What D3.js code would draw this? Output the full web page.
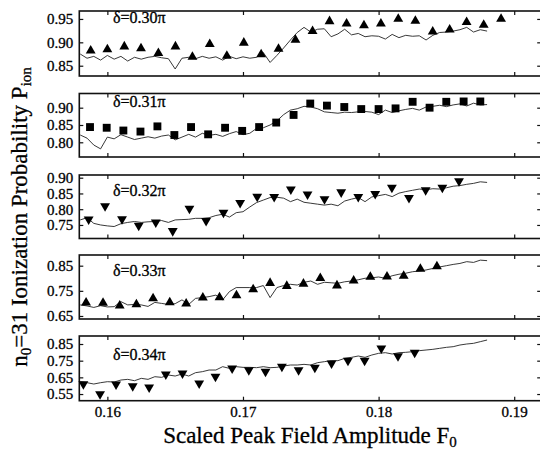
<!DOCTYPE html>
<html>
<head>
<meta charset="utf-8">
<script src="https://cdn.jsdelivr.net/npm/d3@7"></script>
<style>
  body { margin: 0; background: #fff; }
  svg { display: block; }
</style>
</head>
<body>
<div id="chart"></div>
<script>
let w = 540;
let h = 451;

// x ticks shared by all panels
let xTicks = [0.16, 0.17, 0.18, 0.19];

// F grid the simulation curves were read at
let lineF = [0.1580,0.1585,0.1590,0.1595,0.1600,0.1605,0.1610,0.1615,0.1620,0.1625,
  0.1630,0.1635,0.1640,0.1645,0.1650,0.1655,0.1660,0.1665,0.1670,0.1675,
  0.1680,0.1685,0.1690,0.1695,0.1700,0.1705,0.1710,0.1715,0.1720,0.1725,
  0.1730,0.1735,0.1740,0.1745,0.1750,0.1755,0.1760,0.1765,0.1770,0.1775,
  0.1780,0.1785,0.1790,0.1795,0.1800,0.1805,0.1810,0.1815,0.1820,0.1825,
  0.1830,0.1835,0.1840,0.1845,0.1850,0.1855,0.1860,0.1865,0.1870,0.1875,
  0.1880];

let line030 = [0.875,0.866,0.870,0.862,0.872,0.864,0.870,0.860,0.868,0.864,
  0.868,0.870,0.867,0.865,0.843,0.866,0.868,0.865,0.870,0.866,
  0.869,0.862,0.870,0.865,0.869,0.866,0.868,0.878,0.857,0.872,
  0.888,0.905,0.921,0.932,0.922,0.928,0.929,0.912,0.918,0.928,
  0.916,0.919,0.912,0.914,0.913,0.907,0.917,0.910,0.915,0.913,
  0.914,0.905,0.915,0.921,0.922,0.924,0.927,0.932,0.922,0.927,
  0.924];
let line031 = [0.821,0.812,0.792,0.781,0.815,0.810,0.822,0.815,0.808,0.812,
  0.816,0.812,0.818,0.821,0.807,0.815,0.823,0.815,0.826,0.820,
  0.823,0.817,0.825,0.831,0.822,0.826,0.840,0.842,0.850,0.862,
  0.880,0.893,0.897,0.904,0.902,0.897,0.888,0.886,0.884,0.887,
  0.886,0.888,0.889,0.887,0.880,0.893,0.886,0.891,0.895,0.898,
  0.893,0.902,0.904,0.907,0.903,0.908,0.911,0.905,0.913,0.908,
  0.909];
let line032 = [0.766,0.773,0.755,0.750,0.747,0.745,0.754,0.758,0.761,0.758,
  0.760,0.761,0.764,0.758,0.766,0.767,0.768,0.771,0.771,0.773,
  0.780,0.784,0.775,0.789,0.792,0.807,0.821,0.829,0.837,0.838,
  0.835,0.824,0.832,0.822,0.819,0.816,0.813,0.816,0.811,0.826,
  0.832,0.837,0.824,0.839,0.843,0.847,0.840,0.851,0.856,0.860,
  0.864,0.862,0.865,0.864,0.868,0.873,0.875,0.879,0.882,0.887,
  0.885];
let line033 = [0.694,0.690,0.684,0.691,0.686,0.687,0.707,0.694,0.696,0.694,
  0.688,0.704,0.700,0.696,0.699,0.714,0.696,0.720,0.723,0.727,
  0.733,0.714,0.747,0.763,0.763,0.763,0.763,0.771,0.723,0.763,
  0.771,0.776,0.773,0.784,0.789,0.776,0.784,0.782,0.780,0.786,
  0.789,0.794,0.800,0.802,0.805,0.800,0.810,0.816,0.820,0.826,
  0.829,0.833,0.839,0.845,0.850,0.855,0.859,0.866,0.863,0.872,
  0.870];
let line034 = [0.624,0.618,0.610,0.618,0.624,0.622,0.634,0.638,0.630,0.644,
  0.638,0.654,0.650,0.664,0.658,0.670,0.658,0.678,0.684,0.694,
  0.694,0.714,0.704,0.714,0.710,0.710,0.708,0.714,0.708,0.710,
  0.718,0.724,0.724,0.728,0.724,0.738,0.744,0.750,0.750,0.764,
  0.770,0.778,0.770,0.784,0.794,0.798,0.790,0.798,0.800,0.804,
  0.810,0.814,0.818,0.824,0.830,0.834,0.844,0.850,0.854,0.864,
  0.874];

// measured points
let markF030 = [0.15877,0.16000,0.16125,0.16248,0.16376,0.16502,0.16627,0.16755,0.16881,0.17006,
  0.17134,0.17262,0.17387,0.17513,0.17638,0.17764,0.17892,0.18017,0.18145,0.18271,
  0.18399,0.18524,0.18649,0.18775,0.18903];
let mark030 = [0.882,0.885,0.891,0.887,0.877,0.891,0.869,0.896,0.871,0.899,
  0.874,0.886,0.905,0.924,0.945,0.940,0.936,0.940,0.950,0.946,
  0.923,0.927,0.943,0.937,0.950];

let markF031 = [0.15872,0.15995,0.16118,0.16244,0.16369,0.16494,0.16617,0.16743,0.16868,0.16994,
  0.17119,0.17245,0.17373,0.17496,0.17619,0.17747,0.17872,0.18000,0.18125,0.18251,
  0.18376,0.18499,0.18627,0.18750];
let mark031 = [0.844,0.842,0.834,0.831,0.846,0.821,0.844,0.823,0.842,0.833,
  0.844,0.857,0.879,0.912,0.906,0.902,0.896,0.896,0.898,0.917,
  0.900,0.917,0.918,0.918];

let markF032 = [0.15862,0.15983,0.16108,0.16231,0.16357,0.16482,0.16605,0.16728,0.16856,0.16979,
  0.17105,0.17230,0.17353,0.17476,0.17601,0.17724,0.17850,0.17975,0.18098,0.18224,
  0.18347,0.18470,0.18593];
let mark032 = [0.768,0.810,0.769,0.748,0.758,0.731,0.802,0.763,0.789,0.820,
  0.840,0.839,0.863,0.847,0.832,0.854,0.839,0.849,0.869,0.836,
  0.861,0.869,0.889];

let markF033 = [0.15843,0.15968,0.16091,0.16214,0.16337,0.16460,0.16581,0.16704,0.16827,0.16952,
  0.17075,0.17200,0.17323,0.17446,0.17570,0.17693,0.17816,0.17939,0.18062,0.18185,
  0.18308,0.18430];
let mark033 = [0.703,0.702,0.691,0.696,0.720,0.704,0.699,0.723,0.724,0.732,
  0.756,0.781,0.769,0.778,0.800,0.771,0.790,0.805,0.806,0.809,
  0.837,0.847];

let markF034 = [0.15823,0.15946,0.16064,0.16187,0.16308,0.16431,0.16554,0.16677,0.16797,0.16920,
  0.17043,0.17166,0.17287,0.17410,0.17530,0.17653,0.17774,0.17897,0.18020,0.18143,
  0.18266];
let mark034 = [0.610,0.550,0.608,0.598,0.590,0.668,0.674,0.614,0.654,0.704,
  0.694,0.684,0.714,0.694,0.708,0.734,0.750,0.750,0.824,0.778,
  0.798];

let panelLabels = ["δ=0.30π", "δ=0.31π", "δ=0.32π", "δ=0.33π", "δ=0.34π"];
let yDomains = [[0.828, 0.967], [0.7575, 0.941], [0.707, 0.9086], [0.638, 0.8925], [0.51, 0.898]];
let yTicks = [
  [0.85, 0.90, 0.95],
  [0.80, 0.85, 0.90],
  [0.75, 0.80, 0.85, 0.90],
  [0.65, 0.75, 0.85],
  [0.55, 0.65, 0.75, 0.85]
];

let panels = [
  {top: 11,  bottom: 76,    labelY: 23,  shape: "up",     markF: markF030, marks: mark030, line: line030},
  {top: 93.5, bottom: 157,  labelY: 107, shape: "square", markF: markF031, marks: mark031, line: line031},
  {top: 175, bottom: 238.5, labelY: 196, shape: "down",   markF: markF032, marks: mark032, line: line032},
  {top: 255, bottom: 319,   labelY: 276, shape: "up",     markF: markF033, marks: mark033, line: line033},
  {top: 336, bottom: 400.7, labelY: 360, shape: "down",   markF: markF034, marks: mark034, line: line034}
];

let left = 79.3;
let right = 541.2;
let serif = "'Liberation Serif', 'Times New Roman', serif";

let svg = d3.select("#chart")
  .append("svg")
  .attr("width", w)
  .attr("height", h)
  .attr("viewBox", "0 0 " + w + " " + h);

let x = d3.scaleLinear().domain([0.15793, 0.19199]).range([left, right]);

let triangle = d3.symbol().type(d3.symbolTriangle).size(42)();
let square = d3.symbol().type(d3.symbolSquare).size(62)();

// scanned print looks heavy, thicken text a little
function inked(sel, size) {
  sel.style("font-family", serif)
    .attr("font-size", size)
    .attr("fill", "#000")
    .attr("stroke", "#000")
    .attr("stroke-width", 0.3);
}

function styleAxis(g) {
  g.select(".domain").remove();
  g.attr("font-family", null);
  g.selectAll(".tick line").attr("stroke", "#111").attr("stroke-width", 1.2);
  g.selectAll("text").call(inked, 15);
}

panels.forEach(function (p, i) {
  let y = d3.scaleLinear().domain(yDomains[i]).range([p.bottom, p.top]);
  let g = svg.append("g").attr("class", "panel");

  // inward ticks all around
  g.append("g")
    .attr("transform", "translate(0," + p.top + ")")
    .call(d3.axisTop(x).tickValues(xTicks).tickSize(-4).tickFormat(""))
    .call(styleAxis);

  g.append("g")
    .attr("transform", "translate(0," + p.bottom + ")")
    .call(d3.axisBottom(x).tickValues(xTicks).tickSize(-4).tickPadding(6)
      .tickFormat(i == panels.length - 1 ? d3.format(".2f") : ""))
    .call(styleAxis);

  g.append("g")
    .attr("transform", "translate(" + left + ",0)")
    .call(d3.axisLeft(y).tickValues(yTicks[i]).tickSize(-4).tickPadding(6).tickFormat(d3.format(".2f")))
    .call(styleAxis);

  g.append("g")
    .attr("transform", "translate(" + right + ",0)")
    .call(d3.axisRight(y).tickValues(yTicks[i]).tickSize(-4).tickFormat(""))
    .call(styleAxis);

  g.append("rect")
    .attr("x", left)
    .attr("y", p.top)
    .attr("width", right - left)
    .attr("height", p.bottom - p.top)
    .attr("fill", "none")
    .attr("stroke", "#111")
    .attr("stroke-width", 1.6);

  let lineMaker = d3.line()
    .x(d => x(d[0]))
    .y(d => y(d[1]));

  g.append("path")
    .datum(d3.zip(lineF, p.line))
    .attr("d", lineMaker)
    .attr("fill", "none")
    .attr("stroke", "#222")
    .attr("stroke-width", 0.9);

  g.selectAll(".mark")
    .data(d3.zip(p.markF, p.marks))
    .enter()
    .append("path")
    .attr("class", "mark")
    .attr("d", p.shape == "square" ? square : triangle)
    .attr("transform", function (d) {
      let t = "translate(" + x(d[0]) + "," + y(d[1]) + ")";
      if (p.shape == "down") t += " rotate(180)";
      return t;
    })
    .attr("fill", "#000");

  g.append("text")
    .attr("x", 113)
    .attr("y", p.labelY)
    .call(inked, 16)
    .text(panelLabels[i]);
});

// axis titles
let xTitle = svg.append("text")
  .attr("x", 310)
  .attr("y", 443)
  .attr("text-anchor", "middle")
  .call(inked, 23);
xTitle.append("tspan").text("Scaled Peak Field Amplitude F");
xTitle.append("tspan").attr("font-size", 15).attr("dy", 4).text("0");

let yTitle = svg.append("text")
  .attr("transform", "translate(27,217) rotate(-90)")
  .attr("text-anchor", "middle")
  .call(inked, 23);
yTitle.append("tspan").text("n");
yTitle.append("tspan").attr("font-size", 15).attr("dy", 4).text("0");
yTitle.append("tspan").attr("dy", -4).text("=31 Ionization Probability P");
yTitle.append("tspan").attr("font-size", 15).attr("dy", 4).text("ion");
</script>
</body>
</html>
